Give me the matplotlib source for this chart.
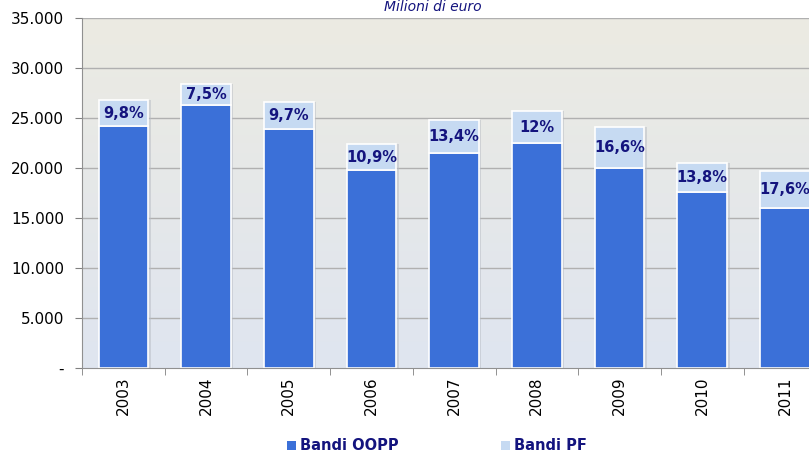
import numpy as np
from matplotlib import pyplot as plt
from matplotlib.patches import Patch
from matplotlib.colors import LinearSegmentedColormap

## Dati (milioni di euro)

anni = ["2003", "2004", "2005", "2006", "2007", "2008", "2009", "2010", "2011"]
totale = [26800, 28400, 26600, 22400, 24800, 25700, 24100, 20500, 19700]   # OOPP + PF
oopp = [24200, 26300, 23900, 19800, 21500, 22500, 20000, 17600, 16000]
quota_pf = ["9,8%", "7,5%", "9,7%", "10,9%", "13,4%", "12%", "16,6%", "13,8%", "17,6%"]

pf = [t - o for t, o in zip(totale, oopp)]

blu = "#3b70d8"
azzurro = "#c6daf2"
navy = "#14147e"

fig = plt.figure(figsize=(8.09, 4.55), dpi=100)
ax = fig.add_axes([0.1014, 0.1912, 0.92, 0.769])

x = np.arange(len(anni))

# sfondo sfumato
cmap = LinearSegmentedColormap.from_list("sfondo", ["#dfe5f0", "#ecebe2"])
grad = np.linspace(0, 1, 256).reshape(-1, 1)
ax.imshow(grad, aspect="auto", cmap=cmap, origin="lower",
          extent=[-0.5, len(anni) - 0.5, 0, 35000], zorder=0)

# griglia sotto le barre
for v in range(5000, 35001, 5000):
    ax.axhline(v, color="#b0b0b0", linewidth=1, zorder=0.5)

# ombra leggera
ax.bar(x + 0.03, totale, width=0.6, color="#b8bcc4", alpha=0.5, zorder=1)
ax.bar(x, oopp, width=0.6, color=blu, edgecolor="white", linewidth=1.2, zorder=2)
ax.bar(x, pf, width=0.6, bottom=oopp, color=azzurro, edgecolor="white", linewidth=1.2, zorder=2)

for i in range(len(anni)):
    ax.text(x[i], oopp[i] + pf[i] * 0.5, quota_pf[i], ha="center", va="center",
            fontsize=10.5, fontweight="bold", color=navy, zorder=3)

ax.set_xlim(-0.5, len(anni) - 0.5)
ax.set_ylim(0, 35000)
ax.set_yticks(np.arange(0, 35001, 5000))
ax.set_yticklabels(["-"] + ["{:,}".format(v).replace(",", ".") for v in range(5000, 35001, 5000)],
                   fontsize=11)

ax.set_xticks(x)
ax.set_xticklabels(anni, rotation=90, fontsize=11)
ax.set_xticks(np.arange(-0.5, len(anni), 1), minor=True)
ax.tick_params(axis="x", which="major", length=0, pad=6)
ax.tick_params(axis="x", which="minor", length=5, color="#808080")
ax.tick_params(axis="y", length=5, color="#808080", pad=8)

for s in ["top", "right"]:
    ax.spines[s].set_visible(False)
ax.spines["left"].set_color("#909090")
ax.spines["bottom"].set_color("#909090")

fig.text(0.535, 0.984, "Milioni di euro", ha="center", va="center",
         fontsize=10, style="italic", color=navy)

maniglie = [Patch(facecolor=blu, label="Bandi OOPP"), Patch(facecolor=azzurro, label="Bandi PF")]
fig.legend(handles=maniglie, loc="center", bbox_to_anchor=(0.54, 0.02), ncol=2, frameon=False,
           handlelength=0.6, handleheight=0.6, handletextpad=0.3, columnspacing=7,
           prop={"weight": "bold", "size": 10.5}, labelcolor=navy)

fig.savefig("out.png", dpi=100)
